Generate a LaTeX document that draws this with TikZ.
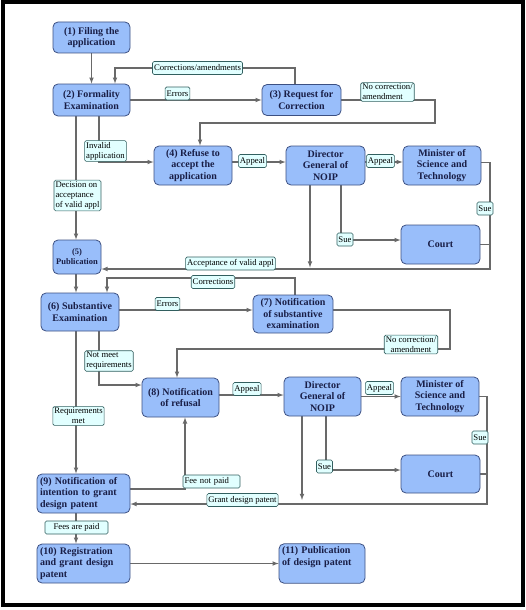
\documentclass[tikz,border=0pt]{standalone}
\usepackage{fontspec}
\setmainfont{Liberation Serif}
\usetikzlibrary{calc}
\definecolor{boxblue}{RGB}{153,190,250}
\definecolor{boxedge}{RGB}{60,80,130}
\definecolor{boxtext}{RGB}{25,30,70}
\definecolor{tagfill}{RGB}{225,255,255}
\definecolor{tagedge}{RGB}{50,95,95}
\definecolor{wirecol}{RGB}{105,105,105}
\pgfdeclarelayer{wires}
\pgfsetlayers{wires,main}

\begin{document}
\begin{tikzpicture}[x=1pt,y=-1pt,
  stage/.style={draw=boxedge,fill=boxblue,rounded corners=5pt,line width=0.8pt,text=boxtext,
    font=\fontsize{10}{11.5}\selectfont\bfseries,align=center,inner sep=3pt,minimum height=39pt},
  tag/.style={draw=tagedge,fill=tagfill,rounded corners=1.5pt,line width=0.6pt,
    font=\fontsize{8.7}{10}\selectfont,align=left,inner sep=1.5pt,minimum height=13pt},
  wire/.style={draw=wirecol,line width=1.1pt},
  go/.style={wire,-latex}]
  \useasboundingbox (0,0) rectangle (526,610);
  \draw[line width=4pt] (2.5,2.5) rectangle (523,605);

  \node[stage,minimum width=77pt,minimum height=31pt] (s1) at (91.5,37.5) {(1) Filing the\\application};
  \node[stage,minimum width=77pt,minimum height=32pt] (s2) at (91.5,100) {(2) Formality\\Examination};
  \node[stage,minimum width=79pt,minimum height=31pt] (s3) at (301.5,100) {(3) Request for\\Correction};
  \node[stage,minimum width=78pt] (s4) at (193,165.5) {(4) Refuse to\\accept the\\application};
  \node[stage,minimum width=79pt] (dg1) at (325.5,165.5) {Director\\General of\\NOIP};
  \node[stage,minimum width=78pt] (mst1) at (442,165.5) {Minister of\\Science and\\Technology};
  \node[stage,minimum width=79pt] (ct1) at (440.5,244.5) {Court};
  \node[stage,minimum width=48pt,minimum height=34pt,font=\fontsize{8.5}{10}\selectfont\bfseries] (s5) at (77,257) {(5)\\Publication};
  \node[stage,minimum width=78pt,minimum height=38pt] (s6) at (80,312) {(6) Substantive\\Examination};
  \node[stage,minimum width=80pt,minimum height=38pt] (s7) at (293,314) {(7) Notification\\of substantive\\examination};
  \node[stage,minimum width=77pt] (s8) at (180.5,397.5) {(8) Notification\\of refusal};
  \node[stage,minimum width=77pt] (dg2) at (322.5,396.5) {Director\\General of\\NOIP};
  \node[stage,minimum width=78pt] (mst2) at (440,396.5) {Minister of\\Science and\\Technology};
  \node[stage,minimum width=79pt,minimum height=38pt] (ct2) at (440.5,474) {Court};
  \node[stage,text width=87pt,align=left] (s9) at (83.5,493.5) {(9) Notification of\\intention to grant\\design patent};
  \node[stage,text width=87pt,align=left] (s10) at (83.5,563.5) {(10) Registration\\and grant design\\patent};
  \node[stage,text width=80pt,align=left] (s11) at (322,563.5) {(11) Publication\\of design patent\\\strut};

  \node[tag] (corr1) at (197.5,68) {Corrections/amendments};
  \node[tag] (err1) at (177.5,93.5) {Errors};
  \node[tag] (inv) at (105.5,151) {Invalid\\application};
  \node[tag] (nocorr1) at (387.5,92) {No correction/\\amendment};
  \node[tag] (app1) at (252.5,161) {Appeal};
  \node[tag] (app2) at (380.5,161) {Appeal};
  \node[tag] (sue1) at (345,239.5) {Sue};
  \node[tag] (sue2) at (485,208.5) {Sue};
  \node[tag] (acc) at (230.5,263.5) {Acceptance of valid appl};
  \node[tag] (dec) at (77.5,195.5) {Decision on\\acceptance\\of valid appl};
  \node[tag] (corr2) at (213,282) {Corrections};
  \node[tag] (err2) at (167.5,304) {Errors};
  \node[tag,align=center] (nocorr2) at (411,344.5) {No correction/\\amendment};
  \node[tag] (nmr) at (109,361) {Not meet\\requirements};
  \node[tag,align=center] (rqm) at (78.5,416) {Requirements\\met};
  \node[tag] (app3) at (247,389) {Appeal};
  \node[tag] (app4) at (379.5,388) {Appeal};
  \node[tag] (sue3) at (480,437.5) {Sue};
  \node[tag] (sue4) at (324.5,466.5) {Sue};
  \node[tag] (gdp) at (242.5,500) {Grant design patent};
  \node[tag,text width=54pt] (fnp) at (211.5,481.5) {Fee not paid};
  \node[tag,minimum width=63pt] (fap) at (76.5,527.5) {Fees are paid};

  \coordinate (r3) at (435,123);
  \coordinate (r5) at (490,269);
  \coordinate (r6) at (107,278);
  \coordinate (r7) at (450,349);
  \coordinate (r9) at (487,504);

  \begin{pgfonlayer}{wires}
    \draw[go] (s1) -- (s2);
    \draw[go] ($(s3.north)+(-6.5,0)$) |- (corr1.center) -| ($(s2.north)+(23.5,0)$);
    \draw[go] (s2.east) -- (s3.west);
    \draw[go] (s3.east) -| (r3) -| ($(s4.north)+(7,0)$);
    \draw[go] ($(s2.south)+(7.5,0)$) |- ($(s4.west)+(0,-3.5)$);
    \draw[go] ($(s2.south)+(-15.5,0)$) -- ($(s5.north)+(-1,0)$);
    \draw[go] ($(s4.east)+(0,-3.5)$) -- ($(dg1.west)+(0,-3.5)$);
    \draw[go] ($(dg1.east)+(0,-3.5)$) -- ($(mst1.west)+(0,-3.5)$);
    \draw[go] ($(mst1.east)+(0,-3)$) -| (r5) -- (s5.east |- r5);
    \draw[wire] (ct1.east) -- (ct1.east -| r5);
    \draw[go] ($(dg1.south)+(15.5,0)$) |- ($(ct1.west)+(0,-4.5)$);
    \draw[go] ($(dg1.south)+(-15.5,0)$) -- ($(dg1.south |- r5)+(-15.5,-1.5)$);
    \draw[go] ($(s5.south)+(-1,0)$) -- ($(s6.north)+(-4,0)$);
    \draw[go] ($(s7.north)+(2,0)$) |- (r6) -- (r6 |- s6.north);
    \draw[go] ($(s6.east)+(0,-2)$) -- ($(s7.west)+(0,-4)$);
    \draw[go] ($(s7.east)+(0,-4)$) -| (r7) -| ($(s8.north)+(-3.5,0)$);
    \draw[go] ($(s6.south)+(19,0)$) |- ($(s8.west)+(0,-12.5)$);
    \draw[go] ($(s6.south)+(-4,0)$) -- ($(s9.north)+(-7.5,0)$);
    \draw[go] ($(s8.east)+(0,-2.5)$) -- ($(dg2.west)+(0,-1.5)$);
    \draw[go] (dg2.east) -- (mst2.west);
    \draw[go] (mst2.east) -| (r9) -- (s9.east |- r9);
    \draw[wire] (ct2.east) -- (ct2.east -| r9);
    \draw[go] ($(dg2.south)+(3.5,0)$) |- ($(ct2.west)+(0,-4)$);
    \draw[go] ($(dg2.south)+(-20.5,0)$) -- ($(dg2.south |- r9)+(-20.5,-4)$);
    \draw[go] ($(s9.east)+(0,-4.5)$) -| ($(s8.south)+(4.5,0)$);
    \draw[go] ($(s9.south)+(-7.5,0)$) -- ($(s10.north)+(-7.5,0)$);
    \draw[go] (s10.east) -- (s11.west);
  \end{pgfonlayer}
\end{tikzpicture}
\end{document}
